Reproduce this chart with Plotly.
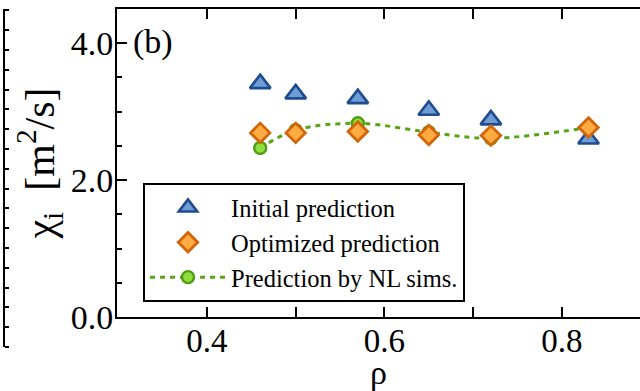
import plotly.graph_objects as go

rho = [0.46, 0.50, 0.57, 0.65, 0.72, 0.83]
chi_initial = [3.41, 3.26, 3.19, 3.02, 2.88, 2.60]
chi_optimized = [2.69, 2.69, 2.71, 2.66, 2.65, 2.77]
chi_nl = [2.47, 2.73, 2.83, 2.70, 2.61, 2.77]

x_tickvals = [0.4, 0.5, 0.6, 0.7, 0.8]
x_ticktext = ["0.4", "", "0.6", "", "0.8"]
y_tickvals = [0.0, 2.0, 4.0]

FONT = "Liberation Serif, Times New Roman, serif"

fig = go.Figure()

fig.add_trace(go.Scatter(
    x=rho, y=chi_initial, mode="markers", name="Initial prediction",
    marker=dict(symbol="triangle-up", size=18, color="#6c9dd6",
                line=dict(color="#1f4c8c", width=2.6)),
    legendrank=1,
))
fig.add_trace(go.Scatter(
    x=rho, y=chi_nl, mode="lines+markers", name="Prediction by NL sims.",
    line=dict(color="#56a514", width=3, dash="5px,5px", shape="spline"),
    marker=dict(symbol="circle", size=12, color="#8fde3e",
                line=dict(color="#4f9e12", width=2.4)),
    legendrank=3,
))
fig.add_trace(go.Scatter(
    x=rho, y=chi_optimized, mode="markers", name="Optimized prediction",
    marker=dict(symbol="diamond", size=15, color="#ffab42",
                line=dict(color="#d2650a", width=2.8)),
    legendrank=2,
))

# neighbouring-panel axis strip at far left
fig.add_trace(go.Scatter(x=[0], y=[0], xaxis="x2", yaxis="y2", mode="markers",
                         marker=dict(opacity=0), showlegend=False, hoverinfo="skip"))

W, H = 640, 391
ml, mr, mt, mb = 2, 0, 9, 44
pw, ph = W - ml - mr, H - mt - mb
plot_left = 117
plot_bottom = 317

fig.update_layout(
    width=W, height=H,
    margin=dict(l=ml, r=mr, t=mt, b=mb),
    paper_bgcolor="white", plot_bgcolor="white",
    font=dict(family=FONT, color="black"),
    showlegend=True,
    legend=dict(
        x=(143 - ml) / pw, y=(H - mb - 183) / ph, xanchor="left", yanchor="top",
        bgcolor="white", bordercolor="black", borderwidth=2,
        font=dict(family=FONT, size=24.5, color="black"),
        itemwidth=76, traceorder="normal",
    ),
    xaxis=dict(
        domain=[(plot_left - ml) / pw, 1.0], range=[0.2986, 0.888],
        anchor="y", automargin=False,
        tickvals=x_tickvals, ticktext=x_ticktext,
        ticks="inside", ticklen=10, tickwidth=2, tickcolor="black",
        showline=True, linewidth=2, linecolor="black", mirror="ticks",
        showgrid=False, zeroline=False,
        tickfont=dict(family=FONT, size=33), ticklabelstandoff=-7,
        title=dict(text="ρ", font=dict(family=FONT, size=34), standoff=0),
    ),
    yaxis=dict(
        domain=[(H - mb - plot_bottom) / ph, 1.0], range=[0, 4.5],
        anchor="x", automargin=False,
        tickvals=y_tickvals, tickformat=".1f",
        ticks="inside", ticklen=10, tickwidth=2, tickcolor="black",
        minor=dict(dtick=0.5, ticks="inside", ticklen=5, tickwidth=2, tickcolor="black"),
        showline=True, linewidth=2, linecolor="black",
        showgrid=False, zeroline=False,
        tickfont=dict(family=FONT, size=34), ticklabelstandoff=-5,
        title=dict(text="χ<sub>i</sub>&nbsp;&nbsp;[m<sup>2</sup>/s]", font=dict(family=FONT, size=42), standoff=3),
    ),
    xaxis2=dict(domain=[0, 0.001], visible=False, anchor="y2", range=[0, 1]),
    yaxis2=dict(
        domain=[0, 1], anchor="x2", side="right", range=[0, 17.07], dtick=1, tick0=0,
        ticks="outside", ticklen=4, tickwidth=1.5, tickcolor="black",
        showticklabels=False, showline=True, linewidth=2, linecolor="black",
        showgrid=False, zeroline=False, automargin=False,
    ),
    annotations=[dict(
        text="(b)", xref="paper", yref="paper",
        x=(131 - ml) / pw, y=(H - mb - 42) / ph, xanchor="left", yanchor="middle",
        showarrow=False, font=dict(family=FONT, size=34, color="black"),
    )],
)

fig.write_html("out.html", config={"displayModeBar": False},
               post_script="document.body.style.margin='0';")
